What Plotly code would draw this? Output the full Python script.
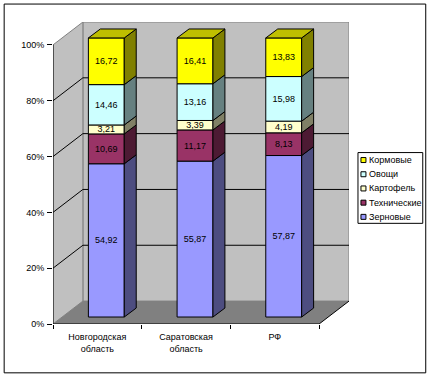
import plotly.graph_objects as go

# ---- data ----
categories = ["Новгородская<br>область", "Саратовская<br>область", "РФ"]
series_names = ["Зерновые", "Технические", "Картофель", "Овощи", "Кормовые"]
zernovye = [54.92, 55.87, 57.87]
tehnicheskie = [10.69, 11.17, 8.13]
kartofel = [3.21, 3.39, 4.19]
ovoshchi = [14.46, 13.16, 15.98]
kormovye = [16.72, 16.41, 13.83]
y_ticks = [0, 20, 40, 60, 80, 100]

series_values = [zernovye, tehnicheskie, kartofel, ovoshchi, kormovye]

# ---- styles ----
front_colors = ["#9999FF", "#993366", "#FFFFCC", "#CCFFFF", "#FFFF00"]
side_colors = ["#4D4D80", "#4D1A33", "#808066", "#668080", "#808000"]
top_color = "#BFBF00"
FONT = dict(family="Liberation Sans, Arial, sans-serif", size=9, color="#000000")

# ---- geometry ----
W, H = 431, 377
L, R, T, B = 52.5, 349.5, 21.5, 324.5     # plot area in page pixels
CAT_PX = 89.0
PCT_PX = 2.8
n = len(categories)
x_max = (R - L) / CAT_PX
y_max = (B - T) / PCT_PX
DX, DY = x_max - n, y_max - 100           # depth of the box in axis units
BAR_W = 36 / CAT_PX
F_DX, F_DY = 9 / CAT_PX, 7 / PCT_PX       # bar front plane offset
S_DX, S_DY = 12 / CAT_PX, 9 / PCT_PX      # bar depth


def px(x):
    return (x - L) / (R - L)


def py(y):
    return (B - y) / (B - T)


def poly(points):
    return "M" + "L".join(f"{a},{b}" for a, b in points) + "Z"


shapes = []


def wall(points, fill, edge="rgba(0,0,0,0)", width=0):
    shapes.append(dict(type="path", path=poly(points), xref="x", yref="y", layer="below",
                       fillcolor=fill, line=dict(color=edge, width=width)))


def seg(p, q, color="#000000", width=1):
    shapes.append(dict(type="line", x0=p[0], y0=p[1], x1=q[0], y1=q[1], xref="x", yref="y",
                       layer="below", line=dict(color=color, width=width)))


# walls and floor
wall([(DX, DY), (DX, 100 + DY), (x_max, 100 + DY), (x_max, DY)], "#C0C0C0", "#808080", 1)
wall([(0, 0), (0, 100), (DX, 100 + DY), (DX, DY)], "#C0C0C0", "#808080", 1)
wall([(0, 0), (n, 0), (x_max, DY), (DX, DY)], "#808080")

# grid lines
for v in y_ticks[1:-1]:
    seg((0, v), (DX, v + DY))
    seg((DX, v + DY), (x_max, v + DY))

# axis lines
seg((0, 0), (0, 100))
seg((0, 0), (n, 0))
seg((n, 0), (x_max, DY))

traces = []
centers = [i + 0.5 + F_DX for i in range(n)]
bases = [F_DY] * n

# front faces
for name, vals, fc, sc in zip(series_names, series_values, front_colors, side_colors):
    traces.append(go.Bar(
        x=centers, y=vals, base=list(bases), width=BAR_W, name=name,
        marker=dict(color=fc, line=dict(color="#000000", width=1)),
        text=[f"{v:.2f}".replace(".", ",") for v in vals],
        textposition="inside", insidetextanchor="middle", textangle=0,
        constraintext="none", textfont=FONT, showlegend=False, hoverinfo="name+text",
    ))
    # side faces
    for c, b, v in zip(centers, bases, vals):
        xr = c + BAR_W / 2
        traces.append(go.Scatter(
            x=[xr, xr + S_DX, xr + S_DX, xr, xr],
            y=[b, b + S_DY, b + v + S_DY, b + v, b],
            mode="lines", fill="toself", fillcolor=sc,
            line=dict(color="#000000", width=1), showlegend=False, hoverinfo="skip",
        ))
    bases = [b + v for b, v in zip(bases, vals)]

# top faces
for c, b in zip(centers, bases):
    xl, xr = c - BAR_W / 2, c + BAR_W / 2
    traces.append(go.Scatter(
        x=[xl, xr, xr + S_DX, xl + S_DX, xl],
        y=[b, b, b + S_DY, b + S_DY, b],
        mode="lines", fill="toself", fillcolor=top_color,
        line=dict(color="#000000", width=1), showlegend=False, hoverinfo="skip",
    ))

# outer frame
shapes.append(dict(type="rect", xref="paper", yref="paper", layer="below",
                   x0=px(3.5), x1=px(426.5), y0=py(373.5), y1=py(3.5),
                   fillcolor="rgba(0,0,0,0)", line=dict(color="#000000", width=1)))

# legend
annotations = []
shapes.append(dict(type="rect", xref="paper", yref="paper", layer="above",
                   x0=px(358.5), x1=px(423.5), y0=py(223.5), y1=py(152.5),
                   fillcolor="#FFFFFF", line=dict(color="#000000", width=1)))
LEG_Y0, LEG_STEP = 160.0, 14.25
for i, idx in enumerate(reversed(range(len(series_names)))):
    yc = LEG_Y0 + i * LEG_STEP
    shapes.append(dict(type="rect", xref="paper", yref="paper", layer="above",
                       x0=px(361.5), x1=px(366.5), y0=py(yc + 2.5), y1=py(yc - 2.5),
                       fillcolor=front_colors[idx], line=dict(color="#000000", width=1)))
    annotations.append(dict(xref="paper", yref="paper", x=px(369), y=py(yc), text=series_names[idx],
                            xanchor="left", yanchor="middle", showarrow=False, font=FONT,
                            borderpad=0))

fig = go.Figure(traces)
fig.update_layout(
    width=W, height=H, autosize=False,
    margin=dict(l=L, r=W - R, t=T, b=H - B, pad=0),
    paper_bgcolor="#FFFFFF", plot_bgcolor="#FFFFFF",
    barmode="overlay", showlegend=False, font=FONT,
    shapes=shapes, annotations=annotations,
    xaxis=dict(range=[0, x_max], tickvals=[i + 0.5 for i in range(n)], ticktext=categories,
               ticks="", showgrid=False, zeroline=False, showline=False, tickangle=0,
               tickfont=FONT, ticklabelstandoff=6,
               minor=dict(tickvals=list(range(n + 1)), ticks="outside", ticklen=4,
                          tickcolor="#000000", tickwidth=1, showgrid=False)),
    yaxis=dict(range=[0, y_max], tickvals=y_ticks, ticktext=[f"{v}%" for v in y_ticks],
               ticks="outside", ticklen=5, tickcolor="#000000", tickwidth=1,
               showgrid=False, zeroline=False, showline=False, tickfont=FONT,
               ticklabelstandoff=1),
)
fig.write_html("out.html", config={"displayModeBar": False},
               post_script="document.body.style.margin='0';document.documentElement.style.overflow='hidden';")
